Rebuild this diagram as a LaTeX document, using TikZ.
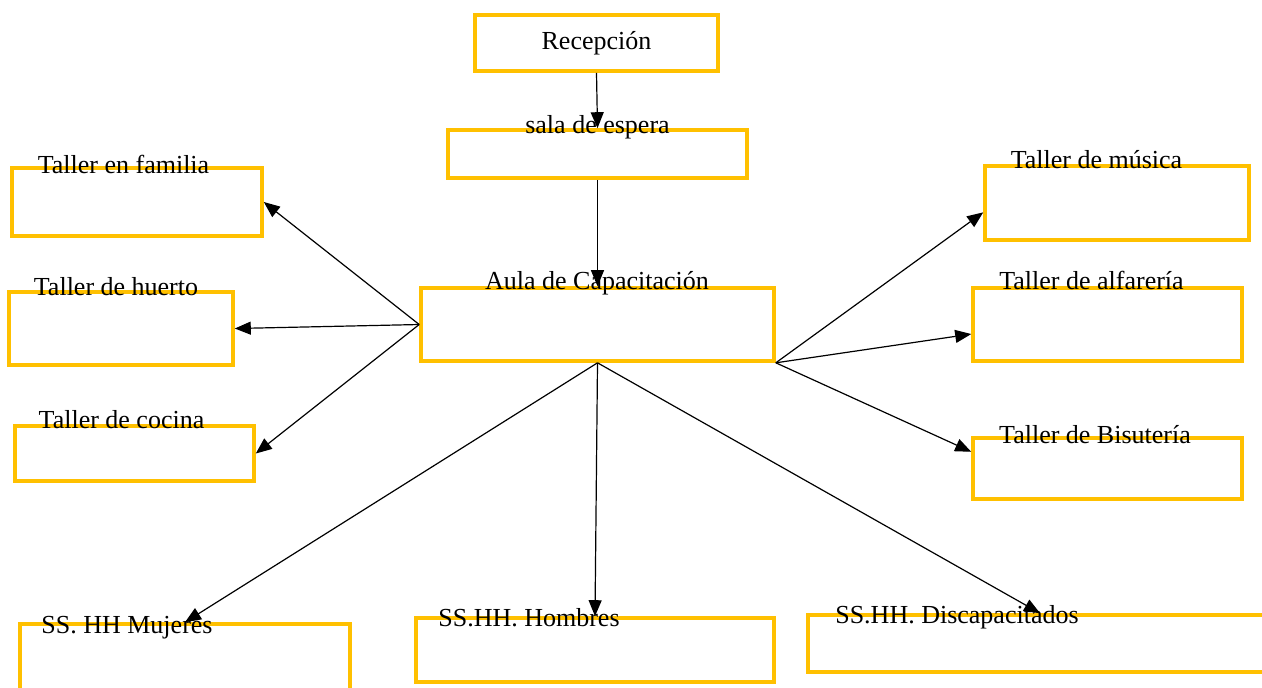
\documentclass[tikz,border=0pt]{standalone}
\usepackage{fontspec}
\setmainfont{Liberation Serif}
\usepackage{xcolor}
\usetikzlibrary{arrows.meta}
\definecolor{boxgold}{RGB}{255,192,0}
\tikzset{
  room/.style 2 args={
    draw=boxgold,
    line width=1.8pt,
    minimum width=#1,
    minimum height=#2,
    inner sep=0pt,
    font=\fontsize{13}{15}\selectfont
  },
  tag/.style={
    anchor=base,
    inner sep=0pt,
    font=\fontsize{13}{15}\selectfont
  },
  flow/.style={-{Triangle[length=8pt,width=6.5pt]}, line width=0.6pt}
}

\begin{document}
\begin{tikzpicture}[x=0.5pt, y=-0.5pt]
  \useasboundingbox (0,0) rectangle (1262,687);
  \clip (0,0) rectangle (1262,687);

  % boxes
  \node[room={121.5pt}{28pt}] (recep) at (596.5,43) {Recepción};
  \node[room={149.5pt}{24pt}] (sala) at (597.5,154) {};
  \node[room={176.5pt}{36.5pt}] (aula) at (597.5,324.5) {};
  \node[room={125pt}{34pt}] (fam) at (137,202) {};
  \node[room={112pt}{36.5pt}] (huer) at (121,328.5) {};
  \node[room={119.5pt}{27.5pt}] (coc) at (134.5,453.5) {};
  \node[room={132pt}{37pt}] (mus) at (1117,203) {};
  \node[room={134.5pt}{36.5pt}] (alf) at (1107.5,324.5) {};
  \node[room={134.5pt}{30.5pt}] (bis) at (1107.5,468.5) {};
  \node[room={165pt}{40.5pt}] (muj) at (185,664.5) {};
  \node[room={179pt}{32pt}] (hom) at (595,650) {};
  \node[room={232pt}{28.5pt}] (disc) at (1040,643.5) {};

  % labels on the top edges
  \node[tag] (salaT) at (597.5,133) {sala de espera};
  \node[tag] (aulaT) at (597,289) {Aula de Capacitación};
  \node[tag] (famT) at (123.5,173) {Taller en familia};
  \node[tag] (huerT) at (116,295) {Taller de huerto};
  \node[tag] (cocT) at (121.5,428) {Taller de cocina};
  \node[tag] (musT) at (1096.5,168) {Taller de música};
  \node[tag] (alfT) at (1091.5,289) {Taller de alfarería};
  \node[tag] (bisT) at (1095,443) {Taller de Bisutería};
  \node[tag] (mujT) at (127,633) {SS. HH Mujeres};
  \node[tag] (homT) at (529,626) {SS.HH. Hombres};
  \node[tag] (discT) at (957,623) {SS.HH. Discapacitados};

  % arrows
  \draw[flow] (recep.south) -- (sala.north);
  \draw[flow] (sala.south) -- (aula.north);
  \draw[flow] (aula.west) -- (fam.east);
  \draw[flow] (aula.west) -- (huer.east);
  \draw[flow] (aula.west) -- (coc.east);
  \draw[flow] (aula.south east) -- (mus.184);
  \draw[flow] (aula.south east) -- (alf.184);
  \draw[flow] (aula.south east) -- (bis.173);
  \draw[flow] (aula.south) -- (muj.north);
  \draw[flow] (aula.south) -- (hom.north);
  \draw[flow] (aula.south) -- (disc.north);
\end{tikzpicture}
\end{document}
